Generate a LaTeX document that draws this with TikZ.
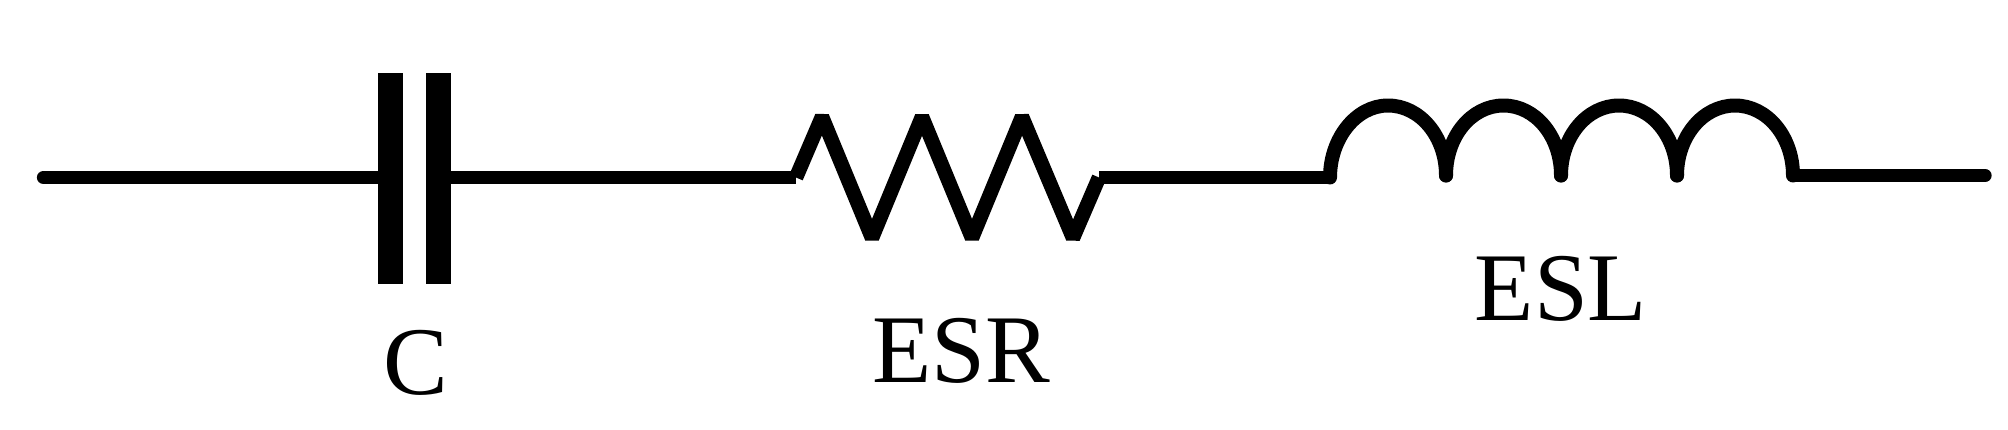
\documentclass[tikz,border=0pt]{standalone}
\usepackage{fontspec}
\setmainfont{Liberation Serif}
\tikzset{
  wire/.style={line width=14pt,line cap=round,line join=round},
  endwire/.style={line width=13.3pt,line cap=round},
  plainwire/.style={line width=13.3pt,line cap=butt},
  zig/.style={line width=14.5pt,line cap=butt,line join=bevel},
  plate/.style={fill=black,draw=none,inner sep=0pt,minimum width=25pt,minimum height=211.5pt},
  lbl/.style={inner sep=0pt,anchor=base,font=\fontsize{97}{97}\selectfont}
}
\begin{document}
\begin{tikzpicture}[x=1pt,y=-1pt]
\useasboundingbox (0,0) rectangle (2008,430);
% capacitor
\node[plate] (pl) at (390.5,178.3) {};
\node[plate] (pr) at (438.5,178.3) {};
% terminals and junctions
\coordinate (in) at (43.5,177.5);
\coordinate (rs) at (796,177.5);
\coordinate (re) at (1099,177.5);
\coordinate (ls) at (1330,177.5);
\coordinate (l1) at (1446,175.5);
\coordinate (l2) at (1561,175.5);
\coordinate (l3) at (1677,175.5);
\coordinate (le) at (1793,175.5);
\coordinate (out) at (1985,175.5);
% lobe tops
\coordinate (t1) at (1388,105.5);
\coordinate (t2) at (1503.5,105.5);
\coordinate (t3) at (1619,105.5);
\coordinate (t4) at (1735,105.5);
% resistor vertices
\coordinate (p1) at (822,116.8);
\coordinate (v1) at (872,237.9);
\coordinate (p2) at (922,116.8);
\coordinate (v2) at (972,237.9);
\coordinate (p3) at (1022,116.8);
\coordinate (v3) at (1073,237.9);
% wires
\draw[endwire] (in) -- (in -| pl.center);
\draw[plainwire] (pr.center |- rs) -- (rs);
\draw[zig] (rs) -- (p1) -- (v1) -- (p2) -- (v2) -- (p3) -- (v3) -- (re);
\draw[plainwire] (re) -- (ls);
% inductor
\draw[wire] (ls) .. controls +(0,-39) and +(-32,0) .. (t1) .. controls +(32,0) and +(0,-39) .. (l1);
\draw[wire] (l1) .. controls +(0,-39) and +(-32,0) .. (t2) .. controls +(32,0) and +(0,-39) .. (l2);
\draw[wire] (l2) .. controls +(0,-39) and +(-32,0) .. (t3) .. controls +(32,0) and +(0,-39) .. (l3);
\draw[wire] (l3) .. controls +(0,-39) and +(-32,0) .. (t4) .. controls +(32,0) and +(0,-39) .. (le);
\draw[endwire] (le) -- (out);
% labels
\node[lbl] (c) at (416,394) {C};
\node[lbl] (esr) at (961,382.5) {ESR};
\node[lbl] (esl) at (1561,320) {ESL};
\end{tikzpicture}
\end{document}
